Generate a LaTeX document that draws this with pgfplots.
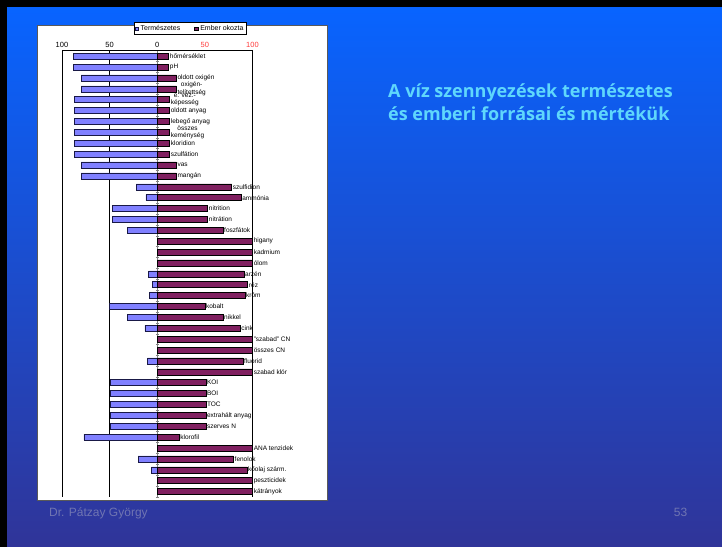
\documentclass[border=0pt]{standalone}
\usepackage{pgfplots}
\pgfplotsset{compat=1.18}
\usepackage{fontspec}
\setmainfont{Liberation Sans}
\newfontfamily\titlefont{Open Sans}[BoldFont={* Bold}]
\definecolor{natblue}{RGB}{128,128,255}
\definecolor{natedge}{RGB}{25,25,70}
\definecolor{manpurple}{RGB}{128,32,96}
\definecolor{tickred}{RGB}{255,60,60}
\definecolor{bgtop}{RGB}{8,100,255}
\definecolor{bgbot}{RGB}{48,52,152}
\definecolor{titlecyan}{RGB}{95,215,252}
\definecolor{footgray}{RGB}{112,117,178}
\protected\def\labA{\raisebox{0.8pt}{\shortstack{oxigén-\\[-0.6pt]telítettség}}}
\protected\def\labB{\raisebox{-0.8pt}{\shortstack{e. vez.-\\[-0.6pt]képesség}}}
\protected\def\labC{\shortstack{összes\\[-0.6pt]keménység}}
\begin{document}
\begin{tikzpicture}
\useasboundingbox (0,0) rectangle (722pt,546pt);
\fill[bgbot] (-3pt,-3pt) rectangle (725pt,549pt);
\shade[top color=bgtop, bottom color=bgbot] (-3pt,-3pt) rectangle (725pt,539pt);
\fill[black] (-3pt,539pt) rectangle (725pt,549pt);
\fill[black] (-3pt,-3pt) rectangle (6.5pt,549pt);
\filldraw[fill=white, draw=black!65, line width=0.8pt] (37pt,46pt) rectangle (327pt,521pt);
\node[anchor=base west, inner sep=0pt, text=titlecyan, font=\titlefont\bfseries\fontsize{18}{22}\selectfont] at (388pt,448pt) {A víz szennyezések természetes};
\node[anchor=base west, inner sep=0pt, text=titlecyan, font=\titlefont\bfseries\fontsize{18}{22}\selectfont] at (388pt,425.5pt) {és emberi forrásai és mértékük};
\node[anchor=base west, inner sep=0pt, text=footgray, font=\fontsize{12}{14}\selectfont] at (49pt,29.3pt) {Dr. Pátzay György};
\node[anchor=base east, inner sep=0pt, text=footgray, font=\fontsize{12}{14}\selectfont] at (687.5pt,29.6pt) {53};
\begin{axis}[
  at={(62pt,495.3pt)}, anchor=north west,
  scale only axis, width=190.5pt, height=446.3pt,
  xmin=-100, xmax=100, ymin=0.5, ymax=41.5,
  axis x line*=top, axis y line*=middle,
  x axis line style={black, line width=0.6pt},
  y axis line style={black!50, line width=0.5pt},
  hide obscured x ticks=false,
  xtick={-100,-50,0,50,100},
  xticklabels={100,50,0,\textcolor{tickred}{50},\textcolor{tickred}{100}},
  x tick style={draw=none},
  xticklabel style={font=\fontsize{7.5}{8}\selectfont, inner sep=1pt},
  ytick={0.5,1.5,...,41.5},
  yticklabels={},
  y tick style={black!50, line width=0.4pt},
  major tick length=3pt,
  tick align=center,
  clip=false,
  /pgf/number format/assume math mode=true,
  every node near coord/.append style={anchor=west, font=\fontsize{6.5}{6}\selectfont, inner sep=1pt, text=black},
  legend columns=2,
  legend style={at={(0.378,1.0363)}, anchor=south west, draw=black, line width=0.5pt,
    font=\fontsize{7}{7}\selectfont, inner sep=0.6pt, outer sep=0pt,
    /tikz/every even column/.append style={column sep=12pt}},
]
\draw[black, line width=0.6pt] (axis cs:-100,0.5) -- (axis cs:-100,41.5);
\draw[black, line width=0.6pt] (axis cs:-50,0.5) -- (axis cs:-50,41.5);
\draw[black, line width=0.6pt] (axis cs:100,0.5) -- (axis cs:100,41.5);
\addplot[xbar, bar width=6pt, bar shift=0pt, fill=natblue, draw=natedge, line width=0.5pt,
  legend image code/.code={\draw[fill=natblue, draw=natedge, line width=0.4pt] (0pt,-1.8pt) rectangle (3.6pt,1.8pt);}]
coordinates {
(-88,41) (-88,40) (-80,39) (-80,38) (-87,37) (-87,36) (-87,35) (-87,34)
(-87,33) (-87,32) (-80,31) (-80,30) (-22,29) (-12,28) (-47,27) (-47,26)
(-31,25) (-9,21) (-5,20) (-8,19) (-50,18) (-31,17) (-13,16) (-10,13)
(-49,11) (-49,10) (-49,9) (-49,8) (-49,7) (-77,6) (-20,4) (-6,3)
};
\addlegendentry{Természetes}
\addplot[xbar, bar width=6pt, bar shift=0pt, fill=manpurple, draw=black, line width=0.5pt,
  nodes near coords, point meta=explicit symbolic,
  legend image code/.code={\draw[fill=manpurple, draw=black, line width=0.4pt] (0pt,-1.8pt) rectangle (3.6pt,1.8pt);}]
coordinates {
(12,41) [hőmérséklet]
(12,40) [pH]
(20,39) [oldott oxigén]
(20,38) [\labA]
(13,37) [\labB]
(13,36) [oldott anyag]
(13,35) [lebegő anyag]
(13,34) [\labC]
(13,33) [kloridion]
(13,32) [szulfátion]
(20,31) [vas]
(20,30) [mangán]
(78,29) [szulfidion]
(88,28) [ammónia]
(53,27) [nitrition]
(53,26) [nitrátion]
(69,25) [foszfátok]
(100,24) [higany]
(100,23) [kadmium]
(100,22) [ólom]
(91,21) [arzén]
(95,20) [réz]
(92,19) [króm]
(50,18) [kobalt]
(69,17) [nikkel]
(87,16) [cink]
(100,15) ["szabad" CN]
(100,14) [összes CN]
(90,13) [fluorid]
(100,12) [szabad klór]
(51,11) [KOI]
(51,10) [BOI]
(51,9) [TOC]
(51,8) [extrahált anyag]
(51,7) [szerves N]
(23,6) [klorofil]
(100,5) [ANA tenzidek]
(80,4) [fenolok]
(94,3) [kőolaj szárm.]
(100,2) [peszticidek]
(100,1) [kátrányok]
};
\addlegendentry{Ember okozta}
\end{axis}
\end{tikzpicture}
\end{document}
